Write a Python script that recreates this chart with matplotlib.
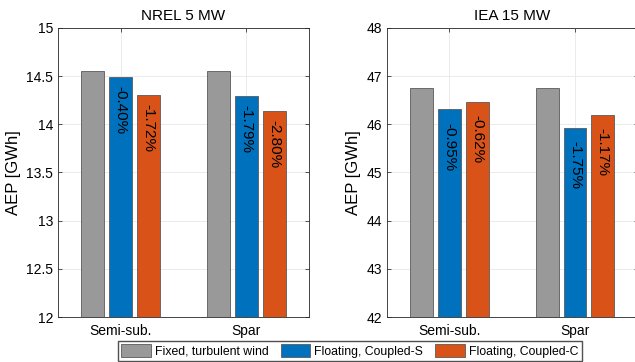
import matplotlib.pyplot as plt
import numpy as np

plt.rcParams["font.family"] = ["Liberation Sans", "DejaVu Sans"]

platforms = ["Semi-sub.", "Spar"]
series_names = ["Fixed, turbulent wind", "Floating, Coupled-S", "Floating, Coupled-C"]
colors = ["#999999", "#0072BD", "#D95319"]

nrel_fixed = [14.55, 14.55]
nrel_coupled_s = [14.49, 14.29]
nrel_coupled_c = [14.30, 14.14]
nrel_pct_s = ["-0.40%", "-1.79%"]
nrel_pct_c = ["-1.72%", "-2.80%"]

iea_fixed = [46.75, 46.75]
iea_coupled_s = [46.31, 45.93]
iea_coupled_c = [46.46, 46.20]
iea_pct_s = ["-0.95%", "-1.75%"]
iea_pct_c = ["-0.62%", "-1.17%"]

# title, series, percentage labels, y-limits, y-ticks, label gap below bar top (points)
panels = [
    ("NREL 5 MW", [nrel_fixed, nrel_coupled_s, nrel_coupled_c], [None, nrel_pct_s, nrel_pct_c],
     (12, 15), np.arange(12, 15.01, 0.5), ["12", "12.5", "13", "13.5", "14", "14.5", "15"], 6.5),
    ("IEA 15 MW", [iea_fixed, iea_coupled_s, iea_coupled_c], [None, iea_pct_s, iea_pct_c],
     (42, 48), np.arange(42, 48.01, 1), [str(v) for v in range(42, 49)], 9.5),
]

fig = plt.figure(figsize=(6.35, 3.62), dpi=100)
axes = [fig.add_axes([0.0913, 0.1243, 0.3953, 0.7984]),
        fig.add_axes([0.609, 0.1243, 0.3953, 0.7984])]

x = np.arange(1, len(platforms) + 1)
offsets = [-0.222, 0.0, 0.222]
width = 0.182

handles = []
for ax, (title, series, labels, ylim, yticks, yticklabels, gap) in zip(axes, panels):
    ax.set_axisbelow(True)
    ax.grid(True, color="#ebebeb", linewidth=0.7)
    for vals, off, col, lab in zip(series, offsets, colors, labels):
        bars = ax.bar(x + off, vals, width, color=col, edgecolor="#5a5a5a", linewidth=0.6)
        if ax is axes[0]:
            handles.append(bars)
        if lab is not None:
            for xi, v, t in zip(x + off, vals, lab):
                ax.annotate(t, (xi, v), xytext=(0, -gap), textcoords="offset points",
                            rotation=-90, ha="center", va="top", fontsize=11, color="black")
    ax.set_xlim(0.5, 2.5)
    ax.set_ylim(*ylim)
    ax.set_yticks(yticks)
    ax.set_yticklabels(yticklabels)
    ax.set_xticks(x)
    ax.set_xticklabels(platforms)
    ax.set_title(title, fontsize=11, pad=6)
    ax.set_ylabel("AEP [GWh]", fontsize=12, labelpad=4)
    ax.tick_params(labelsize=10, length=3, width=0.6, color="#333333", direction="in",
                   top=True, right=True)
    ax.tick_params(axis="x", pad=5)
    for s in ax.spines.values():
        s.set_color("#262626")
        s.set_linewidth(0.6)

fig.legend(handles, series_names, loc="lower center", bbox_to_anchor=(0.551, 0.003),
           ncol=3, fontsize=8.8, frameon=True, fancybox=False, edgecolor="#262626",
           handlelength=2.4, handleheight=1.2, handletextpad=0.35, columnspacing=1.0,
           borderpad=0.25, borderaxespad=0.0)

fig.savefig("out.png", dpi=100)
